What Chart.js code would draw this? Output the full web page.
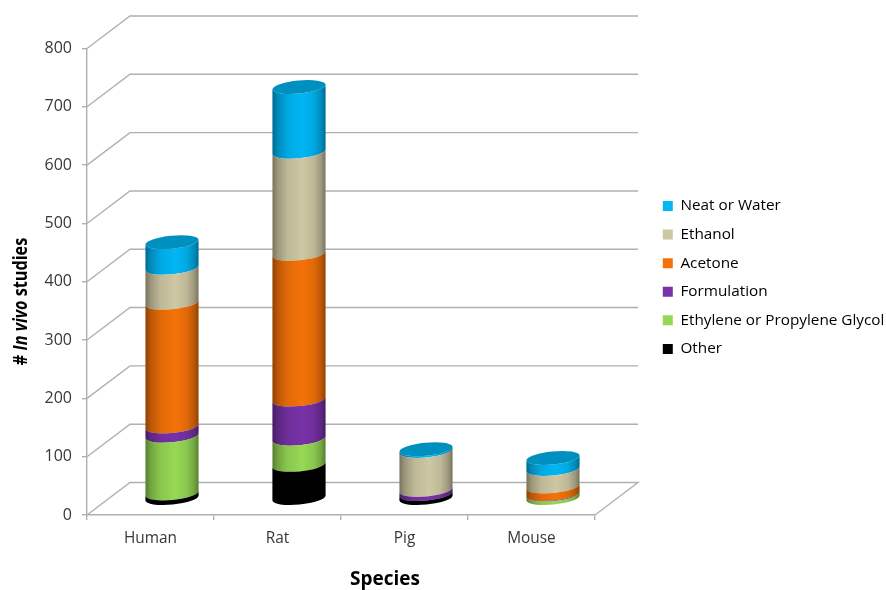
<!DOCTYPE html>
<html>
<head>
<meta charset="utf-8">
<title># In vivo studies by species</title>
<script src="https://cdn.jsdelivr.net/npm/chart.js@4/dist/chart.umd.js"></script>
<style>
    html, body { margin: 0; padding: 0; background: #fff; }
    canvas { display: block; }
</style>
</head>
<body>
<canvas id="chart" width="886" height="590"></canvas>
<script>
    // Studies per species, stacked bottom to top
    const species = ['Human', 'Rat', 'Pig', 'Mouse'];
    const other = [9, 58, 8, 0];
    const glycol = [99, 45, 0, 7];
    const formulation = [16, 67, 7, 1];
    const acetone = [212, 250, 0, 13];
    const ethanol = [60, 175, 67, 30];
    const neat = [44, 111, 3, 19];
    const yTicks = [0, 100, 200, 300, 400, 500, 600, 700, 800];

    const FONT = '"Open Sans", sans-serif';
    const TEXT_COLOR = '#383838';
    const GRID_COLOR = '#b0b0b0';

    // Depth of the floor; cylinders stand half way back
    const DEPTH_X = 43;
    const DEPTH_Y = 32.5;
    const ELLIPSE_RY = 6.5;
    const ELLIPSE_TILT = -0.095;

    // Darkening across the cylinder, left to right
    const SHADE_STOPS = [
        [0, 0.42], [0.1, 0.24], [0.28, 0.08], [0.56, 0],
        [0.78, 0.08], [0.92, 0.24], [1, 0.42]
    ];

    class CylinderElement extends Chart.BarElement {
        static id = 'cylinder';
        static defaults = { ...Chart.BarElement.defaults, capColor: 'transparent' };

        draw(ctx) {
            const { x, y, base, width, options } = this;
            if (Math.abs(base - y) < 0.1) return;

            const cx = x + DEPTH_X / 2;
            const cy = y - DEPTH_Y / 2;
            const by = base - DEPTH_Y / 2;
            const rx = width / 2 / Math.cos(ELLIPSE_TILT);

            const shade = ctx.createLinearGradient(cx - width / 2, 0, cx + width / 2, 0);
            SHADE_STOPS.forEach(([at, alpha]) => shade.addColorStop(at, `rgba(0, 0, 0, ${alpha})`));

            ctx.save();
            ctx.beginPath();
            ctx.ellipse(cx, by, rx, ELLIPSE_RY, ELLIPSE_TILT, 0, Math.PI, false);
            ctx.ellipse(cx, cy, rx, ELLIPSE_RY, ELLIPSE_TILT, Math.PI, 0, true);
            ctx.closePath();
            ctx.fillStyle = options.backgroundColor;
            ctx.fill();
            ctx.fillStyle = shade;
            ctx.fill();

            // only the top series has a visible lid
            ctx.fillStyle = options.capColor;
            ctx.beginPath();
            ctx.ellipse(cx, cy, rx, ELLIPSE_RY, ELLIPSE_TILT, 0, Math.PI * 2);
            ctx.fill();
            ctx.restore();
        }
    }

    class CylinderController extends Chart.BarController {
        static id = 'cylinder';
        static defaults = { ...Chart.BarController.defaults, dataElementType: 'cylinder' };
    }

    Chart.register(CylinderElement, CylinderController);

    // Side wall, back wall and floor lines
    const wallPlugin = {
        id: 'walls',
        beforeDatasetsDraw(chart) {
            const { ctx, chartArea, scales } = chart;
            ctx.save();
            ctx.strokeStyle = GRID_COLOR;
            ctx.lineWidth = 1.4;
            yTicks.forEach(v => {
                const py = scales.y.getPixelForValue(v);
                ctx.beginPath();
                ctx.moveTo(chartArea.left, py);
                ctx.lineTo(chartArea.left + DEPTH_X, py - DEPTH_Y);
                ctx.lineTo(chartArea.right + DEPTH_X, py - DEPTH_Y);
                if (v === 0) ctx.lineTo(chartArea.right, py);
                ctx.stroke();
            });
            ctx.restore();
        }
    };

    // Axis titles: "In vivo" needs italics and "Species" centres under the whole floor
    const axisTitlePlugin = {
        id: 'axisTitles',
        afterDraw(chart) {
            const { ctx } = chart;
            const runs = [
                ['# ', `bold 19.5px ${FONT}`],
                ['In vivo', `italic bold 19.5px ${FONT}`],
                [' studies', `bold 19.5px ${FONT}`]
            ];
            ctx.save();
            ctx.fillStyle = '#000';
            ctx.textBaseline = 'middle';
            ctx.textAlign = 'left';
            ctx.font = `bold 19px ${FONT}`;
            ctx.fillText('Species', 350, 580);
            let total = 0;
            runs.forEach(([text, font]) => {
                ctx.font = font;
                total += ctx.measureText(text).width;
            });
            ctx.translate(21, 301.5);
            ctx.rotate(-Math.PI / 2);
            ctx.scale(0.83, 1);
            let pos = -total / 2;
            runs.forEach(([text, font]) => {
                ctx.font = font;
                ctx.fillText(text, pos, 0);
                pos += ctx.measureText(text).width;
            });
            ctx.restore();
        }
    };

    // Legend sits beside the plot without taking room from it
    const legendPlacePlugin = {
        id: 'legendPlace',
        afterLayout(chart) {
            const legend = chart.legend;
            legend.left = 649.5;
            legend.right = 886;
            legend.top = 185;
            legend.bottom = 590;
        }
    };

    function series(label, data, face, capColor) {
        return { label, data, backgroundColor: face, borderWidth: 0, capColor };
    }

    new Chart(document.getElementById('chart'), {
        type: 'cylinder',
        data: {
            labels: species,
            datasets: [
                series('Other', other, '#000000'),
                series('Ethylene or Propylene Glycol', glycol, '#96D855'),
                series('Formulation', formulation, '#7832A8'),
                series('Acetone', acetone, '#F47208'),
                series('Ethanol', ethanol, '#CDC7A3'),
                series('Neat or Water', neat, '#00B6F5', '#0090BF')
            ]
        },
        options: {
            responsive: false,
            animation: false,
            categoryPercentage: 53 / 127,
            barPercentage: 1,
            layout: { padding: { left: 0, top: 48.5, right: 290, bottom: 0 } },
            plugins: {
                tooltip: { enabled: false },
                legend: {
                    position: 'right',
                    align: 'start',
                    reverse: true,
                    maxWidth: 1,
                    labels: {
                        boxWidth: 10,
                        boxHeight: 10,
                        padding: 13.3,
                        color: TEXT_COLOR,
                        font: { family: FONT, size: 15.3 },
                        generateLabels(chart) {
                            return chart.data.datasets.map((d, i) => ({
                                text: d.label,
                                fillStyle: d.backgroundColor,
                                strokeStyle: d.backgroundColor,
                                lineWidth: 0,
                                datasetIndex: i
                            }));
                        }
                    }
                }
            },
            scales: {
                x: {
                    stacked: true,
                    afterFit(scale) { scale.height = 75; },
                    border: { color: GRID_COLOR, width: 1.4 },
                    grid: { drawOnChartArea: false, color: GRID_COLOR, lineWidth: 1.4, tickLength: 5 },
                    ticks: { color: TEXT_COLOR, font: { family: FONT, size: 15.4 }, padding: 9, maxRotation: 0 }
                },
                y: {
                    stacked: true,
                    min: 0,
                    max: 800,
                    afterFit(scale) { scale.width = 87; },
                    afterBuildTicks(scale) { scale.ticks = yTicks.map(value => ({ value })); },
                    border: { color: GRID_COLOR, width: 1.4 },
                    grid: { drawOnChartArea: false, color: GRID_COLOR, lineWidth: 1.4, tickLength: 5 },
                    ticks: { color: TEXT_COLOR, font: { family: FONT, size: 16 }, padding: 10 }
                }
            }
        },
        plugins: [wallPlugin, axisTitlePlugin, legendPlacePlugin]
    });
</script>
</body>
</html>
